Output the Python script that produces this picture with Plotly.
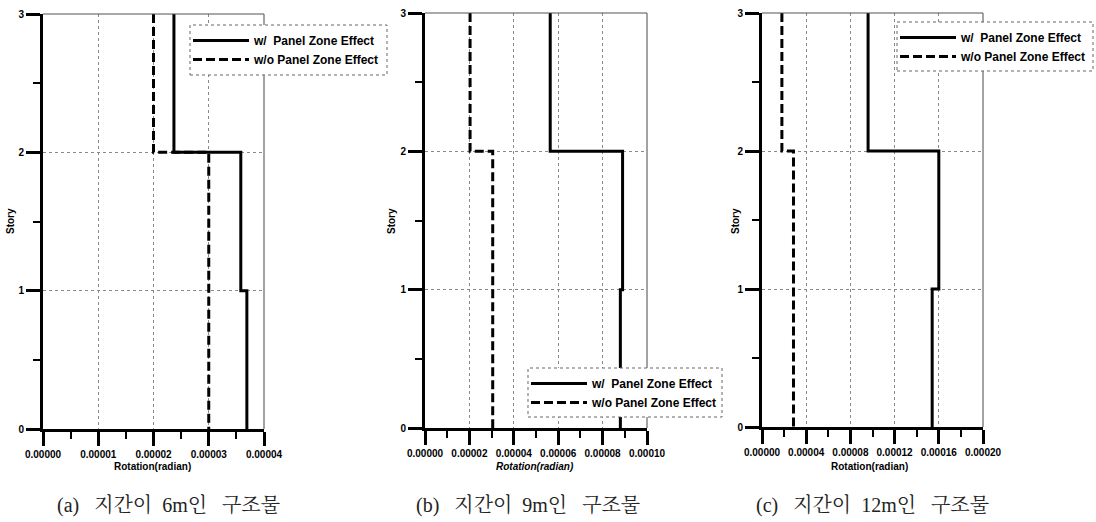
import plotly.graph_objects as go

W, H = 1096, 522

# ---------------- data ----------------
stories = [3, 2, 1, 0]
story_ticks = [0, 1, 2, 3]

# rotation for story segments 3-2, 2-1, 1-0
a_with = [2.37e-5, 3.58e-5, 3.69e-5]
a_without = [2.00e-5, 3.00e-5, 3.00e-5]
b_with = [5.64e-5, 8.90e-5, 8.80e-5]
b_without = [2.03e-5, 3.05e-5, 3.05e-5]
c_with = [9.60e-5, 1.60e-4, 1.54e-4]
c_without = [1.80e-5, 2.85e-5, 2.85e-5]

a_xticks = [0, 1e-5, 2e-5, 3e-5, 4e-5]
b_xticks = [0, 2e-5, 4e-5, 6e-5, 8e-5, 1e-4]
c_xticks = [0, 4e-5, 8e-5, 1.2e-4, 1.6e-4, 2e-4]

series_names = ["w/\u00a0\u00a0Panel Zone Effect", "w/o Panel Zone Effect"]
captions = ["(a)\u2002 지간이\u20026m인\u2002 구조물",
            "(b)\u2002 지간이\u20029m인\u2002 구조물",
            "(c)\u2002 지간이\u200212m인\u2002 구조물"]
xtitle = "Rotation(radian)"
ytitle = "Story"

# ---------------- layout helpers ----------------
def px_x(p):
    return p / W

def px_y(p):
    return 1 - p / H

panels = [
    dict(data=(a_with, a_without), ticks=a_xticks, minor=0.5e-5,
         xd=(43, 264), yd=(14, 429), legend=(190, 25, 387, 75),
         story_x=10, title_x=152, cap_x=168, italic=False),
    dict(data=(b_with, b_without), ticks=b_xticks, minor=1e-5,
         xd=(425, 647), yd=(13, 428), legend=(528, 368, 722, 417),
         story_x=391, title_x=535, cap_x=528, italic=True),
    dict(data=(c_with, c_without), ticks=c_xticks, minor=2e-5,
         xd=(762, 983), yd=(13, 427), legend=(897, 22, 1093, 71),
         story_x=735, title_x=870, cap_x=872, italic=False),
]

FONT = "Liberation Sans, Arial, sans-serif"
fig = go.Figure()
shapes = []
annotations = []

for i, p in enumerate(panels):
    n = "" if i == 0 else str(i + 1)
    xa, ya = "x" + n, "y" + n
    leg = "legend" + n
    w_vals, wo_vals = p["data"]
    for vals, name, dash in ((w_vals, series_names[0], "solid"),
                             (wo_vals, series_names[1], "9px,4px")):
        fig.add_trace(go.Scatter(
            x=vals + [vals[-1]], y=stories, mode="lines", line_shape="vh",
            line=dict(color="black", width=3, dash=dash), name=name,
            xaxis=xa, yaxis=ya, legend=leg, hoverinfo="skip"))

    axis_common = dict(
        showline=True, linewidth=3, linecolor="black",
        ticks="outside", tickwidth=3, tickcolor="black", ticklen=14,
        showgrid=True, gridcolor="#8a8a8a", gridwidth=1, griddash="dot",
        zeroline=False, automargin=False,
        tickfont=dict(family=FONT, size=10, color="black", weight="bold"),
    )
    xdict = dict(axis_common, domain=[px_x(p["xd"][0]), px_x(p["xd"][1])],
                 range=[p["ticks"][0], p["ticks"][-1]], anchor=ya,
                 tickmode="array", tickvals=p["ticks"],
                 ticktext=["%.5f" % t for t in p["ticks"]],
                 minor=dict(dtick=p["minor"], tick0=0, ticks="outside",
                            ticklen=7, tickwidth=2, tickcolor="black",
                            showgrid=False))
    ydict = dict(axis_common, domain=[px_y(p["yd"][1]), px_y(p["yd"][0])],
                 range=[0, 3], tickmode="array", tickvals=story_ticks, anchor=xa,
                 minor=dict(dtick=0.5, tick0=0, ticks="outside", ticklen=7,
                            tickwidth=2, tickcolor="black", showgrid=False))
    fig.update_layout(**{
        "xaxis" + n: xdict,
        "yaxis" + n: ydict,
        leg: dict(
            x=px_x(p["legend"][0] - 2), y=px_y(p["legend"][1] + 1),
            xanchor="left", yanchor="top", xref="paper", yref="paper",
            bgcolor="rgba(0,0,0,0)", borderwidth=0, itemwidth=56,
            font=dict(family=FONT, size=12, color="black", weight="bold"),
            tracegroupgap=0),
    })

    # thin top and right frame
    shapes.append(dict(type="line", xref=xa + " domain", yref=ya + " domain",
                       x0=0, x1=1, y0=1, y1=1, line=dict(color="#555", width=1.2)))
    shapes.append(dict(type="line", xref=xa + " domain", yref=ya + " domain",
                       x0=1, x1=1, y0=0, y1=1, line=dict(color="#666", width=1.2)))
    # dotted legend frame
    lx0, ly0, lx1, ly1 = p["legend"]
    shapes.append(dict(type="rect", xref="paper", yref="paper",
                       x0=px_x(lx0), x1=px_x(lx1), y0=px_y(ly1), y1=px_y(ly0),
                       line=dict(color="#666", width=1, dash="dot"),
                       fillcolor="white", layer="above"))

    annotations.append(dict(
        text=ytitle, x=px_x(p["story_x"]), y=px_y(221), xref="paper", yref="paper",
        showarrow=False, textangle=-90, xanchor="center", yanchor="middle",
        font=dict(family=FONT, size=10, color="black", weight="bold")))
    annotations.append(dict(
        text=xtitle, x=px_x(p["title_x"]), y=px_y(466), xref="paper", yref="paper",
        showarrow=False, xanchor="center", yanchor="middle",
        font=dict(family=FONT, size=10, color="black", weight="bold",
                  style="italic" if p["italic"] else "normal")))
    annotations.append(dict(
        text=captions[i], x=px_x(p["cap_x"]), y=px_y(505), xref="paper", yref="paper",
        showarrow=False, xanchor="center", yanchor="middle",
        font=dict(family="Liberation Serif, Noto Serif CJK KR, Noto Sans CJK KR, serif",
                  size=20, color="#222")))

fig.update_layout(
    width=W, height=H, margin=dict(l=0, r=0, t=0, b=0, pad=0, autoexpand=False),
    paper_bgcolor="white", plot_bgcolor="rgba(0,0,0,0)",
    showlegend=True, shapes=shapes, annotations=annotations,
)

fig.write_html("out.html", config={"displayModeBar": False})
